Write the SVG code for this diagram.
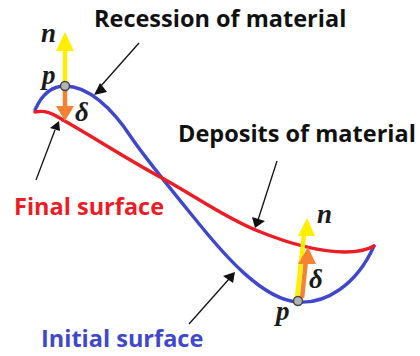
<svg xmlns="http://www.w3.org/2000/svg" width="420" height="356" viewBox="0 0 420 356">
<style>
.lab{font-family:"Open Sans","Liberation Sans",sans-serif;font-weight:700;font-size:23.5px}
.sym{font-family:"Liberation Serif",serif;font-weight:700;font-style:italic;font-size:27px;fill:#1a1a1a}
.curve{fill:none;stroke-width:3.4;stroke-linecap:round}
.ptr{fill:none;stroke:#111;stroke-width:1.3}
.pt{fill:#b4b4b4;stroke:#444;stroke-width:1.5}
</style>
<rect width="420" height="356" fill="#fff"/>
<g id="curves">
<path id="initial-surface" class="curve" stroke="#3f48cc" d="M35 110C42 94 52 86 65 86C88 86 112 108 131 137C145 158 178 198 200 225C222 252 262 300 298 302C325 304 356 286 374 246"/>
<path id="final-surface" class="curve" stroke="#ed1c24" d="M35 112C45 110 52 113 63 120C95 138 125 158 162 178C195 196 225 218 258 231C290 244 320 252 345 252C358 252 367 250 374 246"/>
</g>
<g id="connectors">
<line class="ptr" x1="139" y1="43" x2="100" y2="87"/>
<path d="M94 95L100 83L107 92Z" fill="#111"/>
<line class="ptr" x1="36" y1="180" x2="55" y2="130"/>
<path d="M59 121L60 131L50 128Z" fill="#111"/>
<line class="ptr" x1="277" y1="161" x2="258" y2="220"/>
<path d="M255 228L252 217L265 221Z" fill="#111"/>
<line class="ptr" x1="189" y1="324" x2="229" y2="279"/>
<path d="M235 272L233 283L223 276Z" fill="#111"/>
<g id="vectors-top">
<line x1="65" y1="84" x2="65" y2="48" stroke="#ffee00" stroke-width="4.5"/>
<path d="M65 32L74 51H56Z" fill="#ffee00"/>
<line x1="65" y1="88" x2="65" y2="108" stroke="#f58233" stroke-width="4.5"/>
<path d="M65 121L56 106H74Z" fill="#f58233"/>
</g>
<g id="vectors-bottom">
<line x1="297" y1="298" x2="304" y2="235" stroke="#ffee00" stroke-width="4.5"/>
<path d="M307 218L315 236H298Z" fill="#ffee00"/>
<line x1="302" y1="298" x2="306" y2="260" stroke="#f58233" stroke-width="4.5"/>
<path d="M308 247L316 264H298Z" fill="#f58233"/>
</g>
</g>
<g id="point-top"><circle class="pt" cx="65" cy="86" r="4.5"/><text class="sym" x="42" y="84">p</text></g>
<g id="point-bottom"><circle class="pt" cx="298" cy="301" r="4.5"/><text class="sym" x="276" y="320">p</text></g>
<g id="symbols">
<text class="sym" x="41" y="42">n</text>
<text class="sym" x="75" y="121">δ</text>
<text class="sym" x="317" y="223">n</text>
<text class="sym" x="309" y="288">δ</text>
</g>
<g id="label-recession"><text class="lab" x="94" y="27" fill="#111">Recession of material</text></g>
<g id="label-deposits"><text class="lab" x="178" y="142" fill="#111">Deposits of material</text></g>
<g id="label-final"><text class="lab" x="14" y="215" fill="#ed1c24">Final surface</text></g>
<g id="label-initial"><text class="lab" x="41" y="347" fill="#3f48cc">Initial surface</text></g>
</svg>
